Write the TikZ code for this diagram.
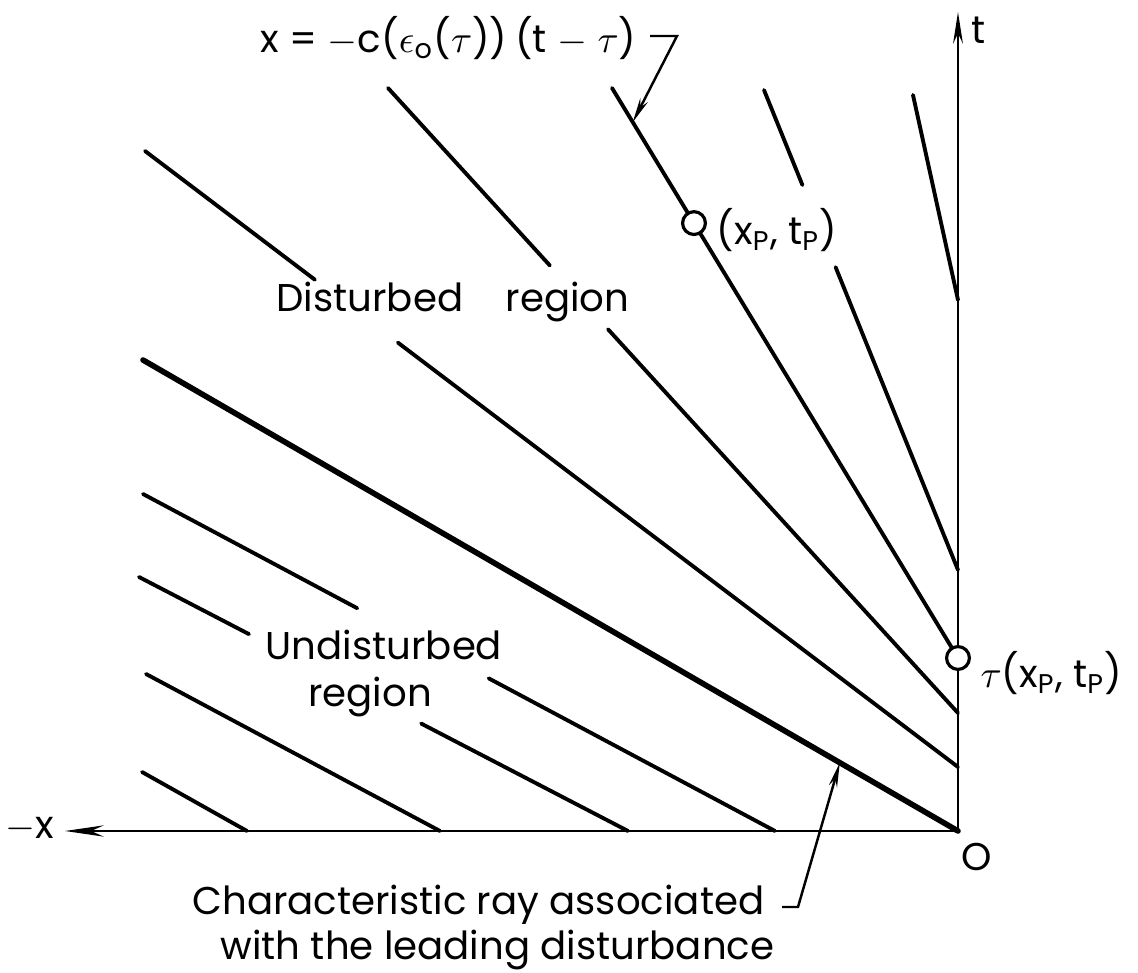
\documentclass[tikz,border=0pt]{standalone}
\usepackage{fontspec}
\setmainfont{Poppins}
\usepackage{tikz}
\usetikzlibrary{arrows.meta}
\usetikzlibrary{calc}

\begin{document}
\begin{tikzpicture}[
    x=0.01cm, y=-0.01cm,
    >={Stealth[length=9pt, width=2.8pt]},
    % Styles for the parts
    axis/.style={line width=0.8pt},
    ray/.style={line width=1.1pt, line cap=round},
    leadray/.style={line width=1.6pt, line cap=round},
    leader/.style={line width=0.7pt, -{Stealth[length=7pt, width=2.4pt]}},
    spot/.style={circle, draw, line width=0.9pt, fill=white, minimum size=6.5pt, inner sep=0pt},
    lbl/.style={font=\fontsize{11}{13}\selectfont, inner sep=0pt}
]
    \useasboundingbox (0,0) rectangle (1138,973);

    % =========================================================================
    % 1. THE AXES
    % =========================================================================
    \coordinate (O) at (958,831);
    \coordinate (ttop) at (958,12);
    \coordinate (xend) at (65,831);
    \draw[axis, ->] (O) -- (ttop);
    \draw[axis, -{Stealth[length=11pt, width=3.2pt]}] (O) -- (xend);

    \node[lbl] (tlbl) at (979,30) {t};
    \node[lbl] (xlbl) at (30,829) {$-$x};
    \node[lbl] (olbl) at (977,857) {O};

    % Points where the rays leave the t axis
    \coordinate (t1) at (958,767);
    \coordinate (t2) at (958,713);
    \coordinate (t3) at (958,570);
    \coordinate (t4) at (958,300);

    % =========================================================================
    % 2. DISTURBED REGION: FAN OF CHARACTERISTICS
    % =========================================================================
    \coordinate (s0) at (143,360);
    \coordinate (s1) at (145,151);
    \coordinate (s2) at (388,88);
    \coordinate (s3) at (612,88);
    \coordinate (s4) at (764,90);
    \coordinate (s5) at (913,95);

    % Leading ray
    \draw[leadray] (s0) -- (O);

    % Rays broken where the labels sit
    \draw[ray] (s1) -- ($(s1)!0.209!(t1)$) ($(s1)!0.311!(t1)$) -- (t1);
    \draw[ray] (s2) -- ($(s2)!0.284!(t2)$) ($(s2)!0.386!(t2)$) -- (t2);
    \draw[ray] (s4) -- ($(s4)!0.198!(t3)$) ($(s4)!0.369!(t3)$) -- (t3);
    \draw[ray] (s5) -- (t4);

    % Ray through the point (xp, tp)
    \node[spot] (tau) at (958,658) {};
    \node[spot] (xp) at ($(s3)!0.237!(tau)$) {};
    \draw[ray] (s3) -- (xp) -- (tau);

    \node[lbl, anchor=west] (xplbl) at (716,230) {(x\textsubscript{P}, t\textsubscript{P})};
    \node[lbl, anchor=west] (taulbl) at (980,673) {$\tau$(x\textsubscript{P}, t\textsubscript{P})};

    % =========================================================================
    % 3. UNDISTURBED REGION: PARALLEL CHARACTERISTICS
    % =========================================================================
    \coordinate (u1) at (143,494);
    \coordinate (u2) at (139,577);
    \coordinate (u3) at (146,674);
    \coordinate (u4) at (142,772);
    \coordinate (e1) at (775,831);
    \coordinate (e2) at (628,831);
    \coordinate (e3) at (440,831);
    \coordinate (e4) at (247,831);

    \draw[ray] (u1) -- ($(u1)!0.339!(e1)$) ($(u1)!0.547!(e1)$) -- (e1);
    \draw[ray] (u2) -- ($(u2)!0.225!(e2)$) ($(u2)!0.577!(e2)$) -- (e2);
    \draw[ray] (u3) -- (e3);
    \draw[ray] (u4) -- (e4);

    % =========================================================================
    % 4. REGION NAMES AND CALLOUTS
    % =========================================================================
    \node[lbl] (dist) at (453,302) {Disturbed\hspace{1.1em}region};
    \node[lbl] (und) at (384,645) {Undisturbed};
    \node[lbl] (undr) at (370,697) {region};

    % Equation of a characteristic
    \node[lbl, anchor=east] (eqn) at (637,38) {x = $-$c($\epsilon_{\mathrm{o}}$($\tau$))\hspace{0.2em}(t $-$ $\tau$)};
    \coordinate (eqtip) at ($(s3)!0.06!(tau)$);
    \draw[leader] ($(eqn.east)+(13,-2)$) -- ++(27,0) -- (eqtip);

    % Leading disturbance
    \node[lbl, anchor=east] (chl1) at (765,905) {Characteristic ray associated};
    \node[lbl, anchor=east] (chl2) at (775,950) {with the leading disturbance};
    \coordinate (leadtip) at ($(s0)!0.855!(O)$);
    \draw[leader] ($(chl1.east)+(17,2)$) -- ++(16,0) -- (leadtip);

\end{tikzpicture}
\end{document}
